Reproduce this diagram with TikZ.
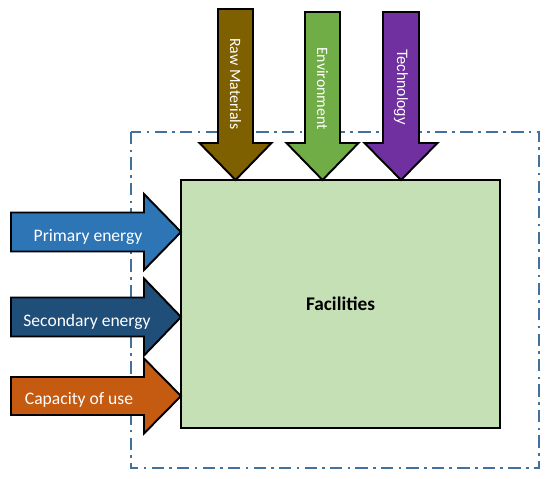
\documentclass[tikz,border=0pt]{standalone}
\usepackage{fontspec}
\setmainfont{Carlito}
\newfontfamily\arialfont{Liberation Sans}
\usetikzlibrary{positioning}
\definecolor{boxgreen}{HTML}{C5E0B4}
\definecolor{frameblue}{HTML}{41719C}
\definecolor{primblue}{HTML}{2E75B6}
\definecolor{secblue}{HTML}{1F4E79}
\definecolor{capor}{HTML}{C55A11}
\definecolor{rawbrown}{HTML}{7F6000}
\definecolor{envgreen}{HTML}{70AD47}
\definecolor{techpurple}{HTML}{7030A0}
\tikzstyle{blockarrow}=[draw=black,line width=1.1pt,line join=miter]
\tikzstyle{inlabel}=[text=white,font=\fontsize{10}{12}\selectfont,inner sep=0pt]
\tikzstyle{uplabel}=[text=white,font=\fontsize{9}{11}\selectfont,inner sep=0pt,rotate=-90,anchor=east]
% right arrow: colour, x0, head base, tip, y centre, shaft half, head half
\newcommand{\rarrow}[7]{\filldraw[blockarrow,fill=#1] (#2,#5-#6) -- (#3,#5-#6) -- (#3,#5-#7) -- (#4,#5) -- (#3,#5+#7) -- (#3,#5+#6) -- (#2,#5+#6) -- cycle;}
% down arrow: colour, x centre, y0, head base, tip, shaft half, head half
\newcommand{\darrow}[7]{\filldraw[blockarrow,fill=#1] (#2-#6,#3) -- (#2-#6,#4) -- (#2-#7,#4) -- (#2,#5) -- (#2+#7,#4) -- (#2+#6,#4) -- (#2+#6,#3) -- cycle;}

\begin{document}
\begin{tikzpicture}[x=0.02cm,y=-0.02cm]
	\useasboundingbox (0,0) rectangle (550,479);
	
	\draw [frameblue,line width=1.1pt,dash pattern=on 7pt off 3pt on 1.5pt off 3pt] (131,132) rectangle (539,468);
	
	\node (fac) at (340.5,304) [draw=black,line width=1pt,fill=boxgreen,minimum width=6.38cm,minimum height=4.96cm,inner sep=0pt] {};
	\node (facl) at (fac.center) [font=\bfseries\fontsize{11}{13}\selectfont] {Facilities};
	
	\rarrow{primblue}{11}{144}{181}{232}{19.5}{38}
	\rarrow{secblue}{11}{144}{181}{317}{19.5}{38.5}
	\rarrow{capor}{11}{144}{181}{396}{19}{37.5}
	
	\darrow{rawbrown}{235.5}{9}{143}{180}{17.5}{36}
	\darrow{envgreen}{322.5}{12}{143}{180}{17.5}{36}
	\darrow{techpurple}{401}{12}{143}{180}{18}{36.5}
	
	\node (prim) at (88,237) [inlabel] {Primary energy};
	\node (sec) at (87,322) [inlabel] {Secondary energy};
	\node (cap) at (79,400) [inlabel] {Capacity of use};
	
	\node (raw) at (235.5,130) [uplabel] {Raw Materials};
	\node (env) at (322.5,130) [uplabel] {Environment};
	\node (tech) at (401,125) [uplabel,font=\arialfont\fontsize{8.5}{10}\selectfont] {Technology};
	
\end{tikzpicture}
\end{document}
